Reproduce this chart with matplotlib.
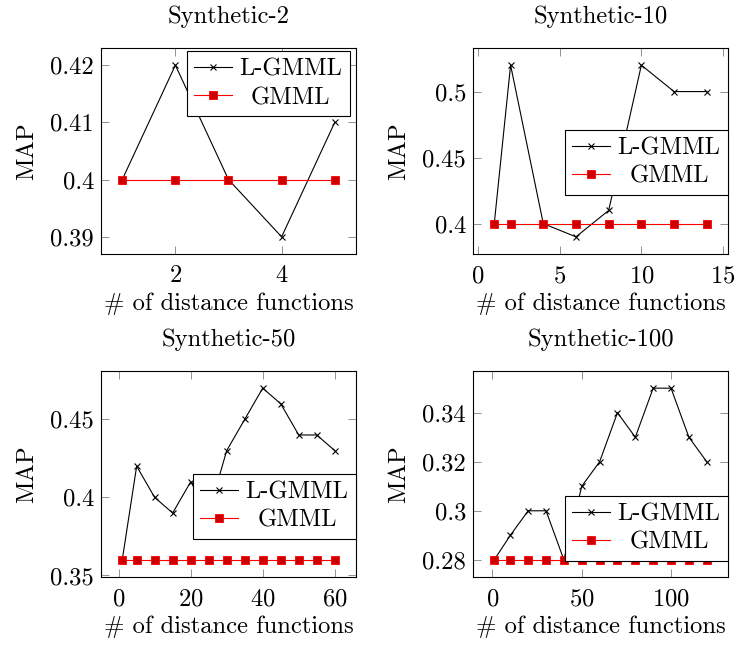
import matplotlib
matplotlib.use("Agg")
import matplotlib.pyplot as plt
from matplotlib.transforms import Affine2D

plt.rcParams["font.family"] = "cmr10"
plt.rcParams["mathtext.fontset"] = "cm"
plt.rcParams["axes.formatter.use_mathtext"] = True
plt.rcParams["font.size"] = 17.7

# MAP for each synthetic dataset vs. number of distance functions
titles = ["Synthetic-2", "Synthetic-10", "Synthetic-50", "Synthetic-100"]

x_syn2 = [1, 2, 3, 4, 5]
lgmml_syn2 = [0.40, 0.42, 0.40, 0.39, 0.41]
gmml_syn2 = [0.40, 0.40, 0.40, 0.40, 0.40]

x_syn10 = [1, 2, 4, 6, 8, 10, 12, 14]
lgmml_syn10 = [0.40, 0.52, 0.40, 0.39, 0.41, 0.52, 0.50, 0.50]
gmml_syn10 = [0.40, 0.40, 0.40, 0.40, 0.40, 0.40, 0.40, 0.40]

x_syn50 = [1, 5, 10, 15, 20, 25, 30, 35, 40, 45, 50, 55, 60]
lgmml_syn50 = [0.36, 0.42, 0.40, 0.39, 0.41, 0.39, 0.43, 0.45, 0.47, 0.46, 0.44, 0.44, 0.43]
gmml_syn50 = [0.36] * 13

x_syn100 = [1, 10, 20, 30, 40, 50, 60, 70, 80, 90, 100, 110, 120]
lgmml_syn100 = [0.28, 0.29, 0.30, 0.30, 0.28, 0.31, 0.32, 0.34, 0.33, 0.35, 0.35, 0.33, 0.32]
gmml_syn100 = [0.28] * 13

xticks = [[2, 4], [0, 5, 10, 15], [0, 20, 40, 60], [0, 50, 100]]
yticks = [[0.39, 0.40, 0.41, 0.42], [0.40, 0.45, 0.50],
          [0.35, 0.40, 0.45], [0.28, 0.30, 0.32, 0.34]]
yticklabels = [["0.39", "0.4", "0.41", "0.42"], ["0.4", "0.45", "0.5"],
               ["0.35", "0.4", "0.45"], ["0.28", "0.3", "0.32", "0.34"]]

# legend anchor (upper right corner) in axes coords
legend_anchor = [(0.975, 0.985), (1.0, 0.602), (1.0, 0.5), (1.0, 0.393)]

panels = [
    (x_syn2, lgmml_syn2, gmml_syn2),
    (x_syn10, lgmml_syn10, gmml_syn10),
    (x_syn50, lgmml_syn50, gmml_syn50),
    (x_syn100, lgmml_syn100, gmml_syn100),
]

fig = plt.figure(figsize=(7.35, 6.47), dpi=100)
W, H = 735, 647
boxes = [(101, 48), (473, 48), (101, 371), (473, 371)]
aw, ah = 255, 206

for i, (x, lg, g) in enumerate(panels):
    left, top = boxes[i]
    ax = fig.add_axes([left / W, 1 - (top + ah) / H, aw / W, ah / H])

    ax.plot(x, lg, color="black", lw=0.8, marker="x", ms=4, mew=0.8,
            label="L-GMML")
    ax.plot(x, g, color="#ff0000", lw=0.8, marker="s", ms=6,
            mfc="#cc0000", mec="#ff0000", mew=0.6, label="GMML")

    # pgfplots style: pad limits by 10% of the data range
    xr = max(x) - min(x)
    ally = lg + g
    yr = max(ally) - min(ally)
    ax.set_xlim(min(x) - 0.1 * xr, max(x) + 0.1 * xr)
    ax.set_ylim(min(ally) - 0.1 * yr, max(ally) + 0.1 * yr)

    ax.set_xticks(xticks[i])
    ax.set_yticks(yticks[i])
    ax.set_yticklabels(yticklabels[i])
    ax.tick_params(direction="in", top=True, right=True, length=6,
                   width=0.6, color="#808080", pad=5)
    ax.tick_params(axis="x", pad=8)
    for s in ax.spines.values():
        s.set_linewidth(0.8)

    ax.set_title(titles[i], fontsize=17.7, pad=18)
    ax.set_xlabel("# of distance functions", labelpad=4)
    ax.set_ylabel("MAP", labelpad=9)

    leg = ax.legend(loc="upper right", bbox_to_anchor=legend_anchor[i],
                    borderaxespad=0, fancybox=False, framealpha=1,
                    edgecolor="black", handlelength=1.55, handletextpad=0.3,
                    borderpad=0.3, labelspacing=0.25)
    leg.get_frame().set_linewidth(0.8)
    leg.set_zorder(5)

    # centre the shorter label within the text column
    fig.canvas.draw()
    texts = leg.get_texts()
    widths = [t.get_window_extent().width for t in texts]
    for t, w in zip(texts, widths):
        t.set_transform(t.get_transform()
                        + Affine2D().translate((max(widths) - w) / 2, 0))

fig.savefig("out.png", dpi=100)
